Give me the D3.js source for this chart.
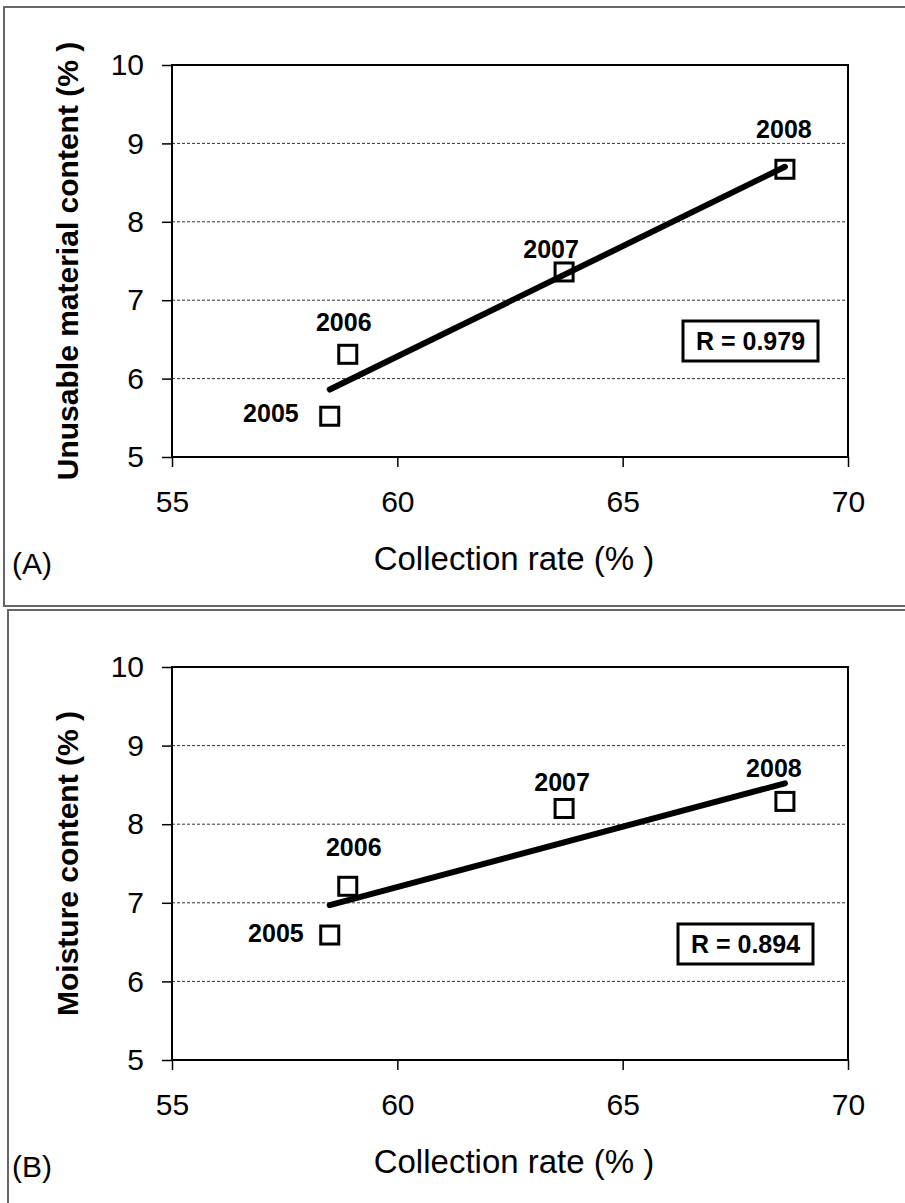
<!DOCTYPE html>
<html>
<head>
<meta charset="utf-8">
<script src="https://cdn.jsdelivr.net/npm/d3@7"></script>
<style>
  body { margin: 0; background: #fff; }
  text { font-family: "Liberation Sans", Arial, sans-serif; fill: #000; }
</style>
</head>
<body>
<div id="chart"></div>
<script>
// Data
var years = ["2005", "2006", "2007", "2008"];
var collectionRate = [58.5, 58.9, 63.7, 68.6];
var unusableContent = [5.52, 6.31, 7.36, 8.67];
var moistureContent = [6.59, 7.21, 8.20, 8.29];
var rLabels = ["R = 0.979", "R = 0.894"];
var xTicks = [55, 60, 65, 70];
var yTicks = [5, 6, 7, 8, 9, 10];
var gridTicks = [6, 7, 8, 9];
var panelLabels = ["(A)", "(B)"];
var yTitles = ["Unusable material content (% )", "Moisture content (% )"];
var xTitle = "Collection rate (% )";

var svgWidth = 905;
var svgHeight = 1203;

var svg = d3.select("#chart")
  .append("svg")
  .attr("width", svgWidth)
  .attr("height", svgHeight);

// panel frames and plot boxes (pixels)
var panels = [
  { frame: [4, 7, 930, 599], top: 65, bottom: 457, values: unusableContent,
    labelPos: [[-31, 6, "end"], [-4, -23, "middle"], [-13, -14, "middle"], [-1, -31, "middle"]],
    rBox: [683, 321] },
  { frame: [8, 610, 930, 620], top: 667, bottom: 1060, values: moistureContent,
    labelPos: [[-26, 7, "end"], [6, -30, "middle"], [-2, -17, "middle"], [-11, -24, "middle"]],
    rBox: [678, 924] }
];
var left = 172, right = 848;

panels.forEach(function (p, i) {
  var g = svg.append("g");

  g.append("rect")
    .attr("x", p.frame[0]).attr("y", p.frame[1])
    .attr("width", p.frame[2]).attr("height", p.frame[3])
    .attr("fill", "none")
    .attr("stroke", "#666")
    .attr("stroke-width", 2);

  var x = d3.scaleLinear().domain([55, 70]).range([left, right]);
  var y = d3.scaleLinear().domain([5, 10]).range([p.bottom, p.top]);

  // dashed gridlines
  g.selectAll(".grid")
    .data(gridTicks)
    .enter()
    .append("line")
    .attr("x1", left).attr("x2", right)
    .attr("y1", d => y(d)).attr("y2", d => y(d))
    .attr("stroke", "#333")
    .attr("stroke-width", 1)
    .attr("stroke-dasharray", "3,2");

  // axes
  var leftAxis = d3.axisLeft(y).tickValues(yTicks).tickFormat(d3.format("d"))
    .tickSize(10).tickPadding(18);
  var bottomAxis = d3.axisBottom(x).tickValues(xTicks).tickFormat(d3.format("d"))
    .tickSize(10).tickPadding(24);

  var ya = g.append("g")
    .attr("transform", `translate(${left}, 0)`)
    .call(leftAxis);
  var xa = g.append("g")
    .attr("transform", `translate(0, ${p.bottom})`)
    .call(bottomAxis);

  [ya, xa].forEach(function (a) {
    a.attr("font-size", null).attr("font-family", null);
    a.select(".domain").remove();
    a.selectAll(".tick line").attr("stroke", "#000").attr("stroke-width", 1.5);
    a.selectAll(".tick text")
      .style("font-size", "30px")
      .attr("fill", "#000");
  });

  // plot frame
  g.append("rect")
    .attr("x", left).attr("y", p.top)
    .attr("width", right - left).attr("height", p.bottom - p.top)
    .attr("fill", "none")
    .attr("stroke", "#000")
    .attr("stroke-width", 2);

  // trend line: least squares fit of the points
  var mx = d3.mean(collectionRate), my = d3.mean(p.values);
  var sxy = d3.sum(collectionRate, (v, k) => (v - mx) * (p.values[k] - my));
  var sxx = d3.sum(collectionRate, v => (v - mx) * (v - mx));
  var slope = sxy / sxx;
  var x0 = d3.min(collectionRate), x1 = d3.max(collectionRate);
  g.append("line")
    .attr("x1", x(x0)).attr("y1", y(my + slope * (x0 - mx)))
    .attr("x2", x(x1)).attr("y2", y(my + slope * (x1 - mx)))
    .attr("stroke", "#000")
    .attr("stroke-width", 6)
    .attr("stroke-linecap", "round");

  // square markers
  g.selectAll(".pt")
    .data(collectionRate)
    .enter()
    .append("rect")
    .attr("x", d => x(d) - 9)
    .attr("y", (d, k) => y(p.values[k]) - 9)
    .attr("width", 18).attr("height", 18)
    .attr("fill", "none")
    .attr("stroke", "#000")
    .attr("stroke-width", 3);

  // year labels
  g.selectAll(".yr")
    .data(years)
    .enter()
    .append("text")
    .attr("x", (d, k) => x(collectionRate[k]) + p.labelPos[k][0])
    .attr("y", (d, k) => y(p.values[k]) + p.labelPos[k][1])
    .attr("text-anchor", (d, k) => p.labelPos[k][2])
    .attr("font-size", 25)
    .attr("font-weight", "bold")
    .text(d => d);

  // R box
  g.append("rect")
    .attr("x", p.rBox[0]).attr("y", p.rBox[1])
    .attr("width", 135).attr("height", 40)
    .attr("fill", "#fff")
    .attr("stroke", "#000")
    .attr("stroke-width", 3);
  g.append("text")
    .attr("x", p.rBox[0] + 67.5)
    .attr("y", p.rBox[1] + 29)
    .attr("text-anchor", "middle")
    .attr("font-size", 25)
    .attr("font-weight", "bold")
    .text(rLabels[i]);

  // axis titles
  g.append("text")
    .attr("x", (left + right) / 2 + 4)
    .attr("y", p.bottom + 113)
    .attr("text-anchor", "middle")
    .attr("font-size", 33)
    .text(xTitle);

  g.append("text")
    .attr("transform", `translate(78, ${(p.top + p.bottom) / 2}) rotate(-90)`)
    .attr("text-anchor", "middle")
    .attr("font-size", 30)
    .attr("font-weight", "bold")
    .text(yTitles[i]);

  g.append("text")
    .attr("x", 12)
    .attr("y", p.bottom + 117)
    .attr("font-size", 30)
    .text(panelLabels[i]);
});
</script>
</body>
</html>
